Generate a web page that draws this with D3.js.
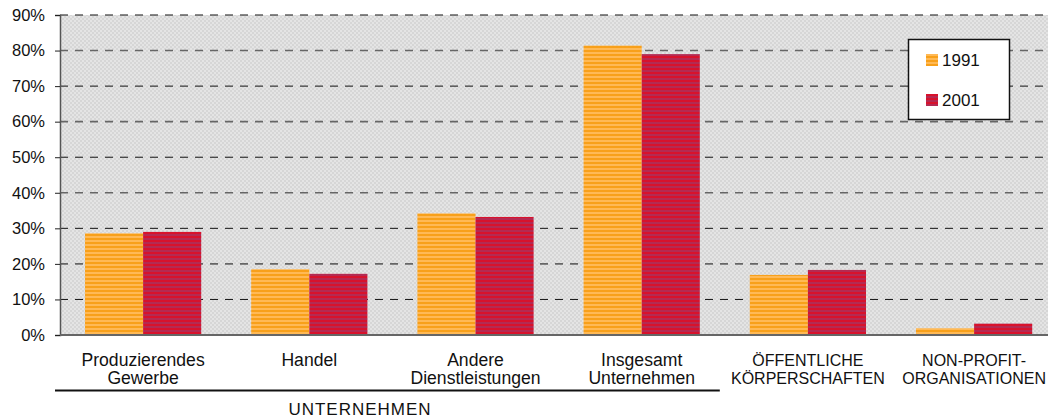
<!DOCTYPE html>
<html>
<head>
<meta charset="utf-8">
<script src="https://cdn.jsdelivr.net/npm/d3@7"></script>
<style>
  body { margin: 0; background: #fff; }
  svg { display: block; font-family: "Liberation Sans", Arial, sans-serif; }
</style>
</head>
<body>
<div id="chart"></div>
<script>
const categories = [
  ["Produzierendes", "Gewerbe"],
  ["Handel"],
  ["Andere", "Dienstleistungen"],
  ["Insgesamt", "Unternehmen"],
  ["ÖFFENTLICHE", "KÖRPERSCHAFTEN"],
  ["NON-PROFIT-", "ORGANISATIONEN"]
];
const seriesNames = ["1991", "2001"];
const values1991 = [28.6, 18.5, 34.2, 81.4, 16.9, 1.9];
const values2001 = [29.0, 17.2, 33.2, 79.0, 18.3, 3.2];
const yTicks = [0, 10, 20, 30, 40, 50, 60, 70, 80, 90];
const groupLabel = "UNTERNEHMEN";

const W = 1048, H = 420;
const plotLeft = 60, plotTop = 15, plotBottom = 335;

const svg = d3.select("#chart").append("svg")
  .attr("width", W).attr("height", H);

// patterns
const defs = svg.append("defs");
const bg = defs.append("pattern").attr("id", "bg")
  .attr("width", 4).attr("height", 4).attr("patternUnits", "userSpaceOnUse");
bg.append("rect").attr("width", 4).attr("height", 4).attr("fill", "#e4e4e4");
bg.append("rect").attr("width", 2).attr("height", 2).attr("fill", "#d6d6d6");
bg.append("rect").attr("x", 2).attr("y", 2).attr("width", 2).attr("height", 2).attr("fill", "#d6d6d6");

function stripes(id, c1, c2) {
  const p = defs.append("pattern").attr("id", id)
    .attr("width", 4).attr("height", 4).attr("patternUnits", "userSpaceOnUse");
  p.append("rect").attr("width", 4).attr("height", 4).attr("fill", c1);
  p.append("rect").attr("y", 2).attr("width", 4).attr("height", 2).attr("fill", c2);
}
stripes("s1991", "#ffb955", "#f8a01a");
stripes("s2001", "#d8122c", "#b42a52");

const x0 = d3.scaleBand().domain(d3.range(categories.length))
  .range([plotLeft, plotLeft + 6 * 166.2]).paddingInner(0).paddingOuter(0);
const x1 = d3.scaleBand().domain(seriesNames)
  .range([0, x0.bandwidth()]).paddingOuter(0.43);
const y = d3.scaleLinear().domain([0, 90]).range([plotBottom, plotTop]);

const fills = { "1991": "url(#s1991)", "2001": "url(#s2001)" };

// background
svg.append("rect").attr("x", plotLeft).attr("y", plotTop)
  .attr("width", W - plotLeft).attr("height", plotBottom - plotTop)
  .attr("fill", "url(#bg)");

// gridlines
svg.append("g").selectAll("line")
  .data(yTicks.filter(d => d > 0))
  .enter().append("line")
  .attr("x1", plotLeft).attr("x2", W)
  .attr("y1", d => y(d)).attr("y2", d => y(d))
  .attr("stroke", d => (d / 10) % 2 === 0 ? "#666" : "#111")
  .attr("stroke-width", d => (d / 10) % 2 === 0 ? 1.6 : 1)
  .attr("stroke-dasharray", "8,7");

// bars
const data = categories.map((c, i) => ({ i, vals: [
  { key: "1991", v: values1991[i] },
  { key: "2001", v: values2001[i] }
]}));

svg.append("g").selectAll("g")
  .data(data).enter().append("g")
  .attr("transform", d => `translate(${x0(d.i)},0)`)
  .selectAll("rect")
  .data(d => d.vals).enter().append("rect")
  .attr("x", d => x1(d.key))
  .attr("width", x1.bandwidth())
  .attr("y", d => y(d.v))
  .attr("height", d => y(0) - y(d.v))
  .attr("fill", d => fills[d.key]);

// axes
const yAxis = svg.append("g")
  .attr("transform", `translate(${plotLeft},0)`)
  .call(d3.axisLeft(y).tickValues(yTicks).tickSize(5).tickFormat(d => d + "%"));
yAxis.select(".domain").attr("stroke", "#555").attr("stroke-width", 1.5);
yAxis.selectAll(".tick line").attr("stroke", "#222");
yAxis.selectAll(".tick text")
  .attr("x", -15)
  .style("font-size", "16.5px").attr("fill", "#111");

svg.append("line")
  .attr("x1", plotLeft).attr("x2", W)
  .attr("y1", plotBottom).attr("y2", plotBottom)
  .attr("stroke", "#666").attr("stroke-width", 2);

// category labels
const lab = svg.append("g").selectAll("text")
  .data(categories).enter().append("text")
  .attr("text-anchor", "middle")
  .attr("fill", "#111")
  .style("font-size", (d, i) => i >= 4 ? "16px" : "17.6px");
lab.each(function (d, i) {
  const t = d3.select(this);
  const cx = x0(i) + x0.bandwidth() / 2;
  d.forEach((line, k) => {
    t.append("tspan")
      .attr("x", cx)
      .attr("y", 365.5 + k * 18)
      .text(line);
  });
});

// group line and label
svg.append("line")
  .attr("x1", 55).attr("x2", x0(3) + x0.bandwidth() - 5)
  .attr("y1", 390.5).attr("y2", 390.5)
  .attr("stroke", "#111").attr("stroke-width", 2);
svg.append("text")
  .attr("x", 360)
  .attr("y", 415)
  .attr("text-anchor", "middle")
  .style("font-size", "17px").style("letter-spacing", "1px").attr("fill", "#111")
  .text(groupLabel);

// legend
const legend = svg.append("g").attr("transform", "translate(908.5,39.5)");
legend.append("rect").attr("width", 101).attr("height", 80)
  .attr("fill", "#fff").attr("stroke", "#111").attr("stroke-width", 1.5);
seriesNames.forEach((s, i) => {
  const g = legend.append("g").attr("transform", `translate(17.5,${14.5 + i * 40})`);
  g.append("rect").attr("width", 12).attr("height", 12).attr("fill", fills[s]);
  g.append("text").attr("x", 16).attr("y", 12)
    .style("font-size", "17px").attr("fill", "#111").text(s);
});
</script>
</body>
</html>
